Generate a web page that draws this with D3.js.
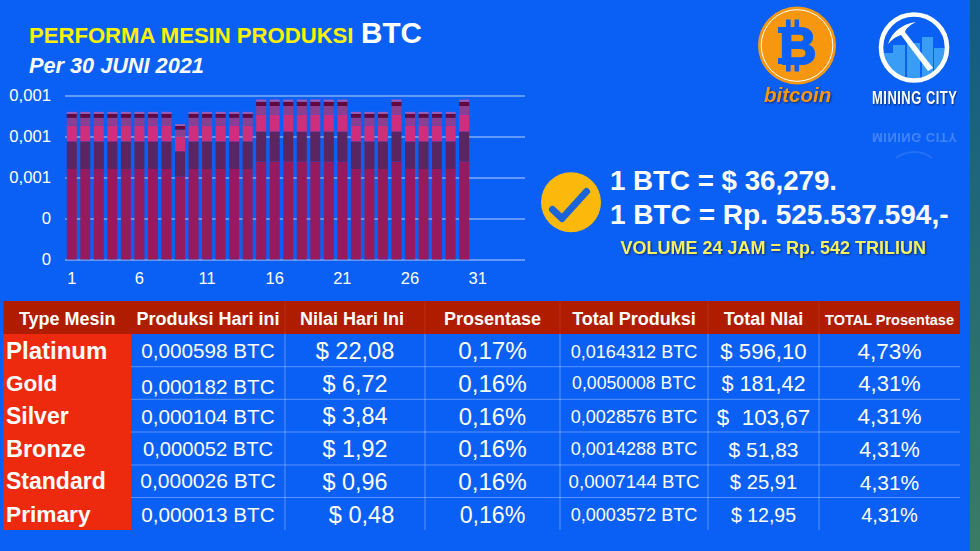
<!DOCTYPE html>
<html>
<head>
  <meta charset="UTF-8">
  <style>
    body { margin: 0; background: #0a60f5; }
    svg { display: block; font-family: "Liberation Sans", Arial, sans-serif; }
    .shadow { filter: drop-shadow(1px 1px 1px rgba(0,0,40,.55)); }
  </style>
</head>
<body>
<svg width="980" height="551"></svg>
<script src="https://d3js.org/d3.v7.min.js"></script>
<script>
// ---- chart data
const days = d3.range(1, 35); // axis runs on past the last bar, labels stop at 31
const platinum = [.000552,.000552,.000552,.000552,.000552,.000552,.000552,.000552,.000506,.000552,.000552,.000552,.000552,.000552,.000598,.000598,.000598,.000598,.000598,.000598,.000598,.000552,.000552,.000552,.000598,.000552,.000552,.000552,.000552,.000598];
const gold     = [.000168,.000168,.000168,.000168,.000168,.000168,.000168,.000168,.000154,.000168,.000168,.000168,.000168,.000168,.000182,.000182,.000182,.000182,.000182,.000182,.000182,.000168,.000168,.000168,.000182,.000168,.000168,.000168,.000168,.000182];
const silver   = [.000096,.000096,.000096,.000096,.000096,.000096,.000096,.000096,.000088,.000096,.000096,.000096,.000096,.000096,.000104,.000104,.000104,.000104,.000104,.000104,.000104,.000096,.000096,.000096,.000104,.000096,.000096,.000096,.000096,.000104];
const bronze   = [.000048,.000048,.000048,.000048,.000048,.000048,.000048,.000048,.000044,.000048,.000048,.000048,.000048,.000048,.000052,.000052,.000052,.000052,.000052,.000052,.000052,.000048,.000048,.000048,.000052,.000048,.000048,.000048,.000048,.000052];
const standard = [.000024,.000024,.000024,.000024,.000024,.000024,.000024,.000024,.000022,.000024,.000024,.000024,.000024,.000024,.000026,.000026,.000026,.000026,.000026,.000026,.000026,.000024,.000024,.000024,.000026,.000024,.000024,.000024,.000024,.000026];
const primary  = [.000012,.000012,.000012,.000012,.000012,.000012,.000012,.000012,.000011,.000012,.000012,.000012,.000012,.000012,.000013,.000013,.000013,.000013,.000013,.000013,.000013,.000012,.000012,.000012,.000013,.000012,.000012,.000012,.000012,.000013];
const yTicks = [0, .00025, .0005, .00075, .001];
const xTicks = [1, 6, 11, 16, 21, 26, 31];

// ---- table text
const headers = ["Type Mesin", "Produksi Hari ini", "Nilai Hari Ini", "Prosentase", "Total Produksi", "Total Nlai", "TOTAL Prosentase"];
const machines = ["Platinum", "Gold", "Silver", "Bronze", "Standard", "Primary"];
const prodToday = ["0,000598 BTC", "0,000182 BTC", "0,000104 BTC", "0,000052 BTC", "0,000026 BTC", "0,000013 BTC"];
const valueToday = ["$ 22,08", "$ 6,72", "$ 3,84", "$ 1,92", "$ 0,96", "\u00a0\u00a0$ 0,48"];
const pctToday = ["0,17%", "0,16%", "0,16%", "0,16%", "0,16%", "0,16%"];
const prodTotal = ["0,0164312 BTC", "0,0050008 BTC", "0,0028576 BTC", "0,0014288 BTC", "0,0007144 BTC", "0,0003572 BTC"];
const valueTotal = ["$ 596,10", "$ 181,42", "$\u00a0\u00a0103,67", "$ 51,83", "$ 25,91", "$ 12,95"];
const pctTotal = ["4,73%", "4,31%", "4,31%", "4,31%", "4,31%", "4,31%"];

const svg = d3.select("svg");
const seriesColors = ["#961b5e", "#5a2560", "#cf2e7c", "#8c3f90", "#63083e", "#a25cb5"];

// ---- backdrop, the darker strip on the right edge
const grad = svg.append("defs").append("linearGradient").attr("id", "strip")
  .attr("x1", 0).attr("x2", 0).attr("y1", 0).attr("y2", 1);
grad.append("stop").attr("offset", 0).attr("stop-color", "#125a88");
grad.append("stop").attr("offset", 1).attr("stop-color", "#3a7c62");
svg.append("rect").attr("width", 980).attr("height", 551).attr("fill", "#0a60f5");
svg.append("rect").attr("x", 970).attr("width", 10).attr("height", 551).attr("fill", "url(#strip)");

// ---- title
svg.append("text").attr("x", 29).attr("y", 43).attr("font-size", 22.1).attr("font-weight", "bold")
  .attr("fill", "#fff200").text("PERFORMA MESIN PRODUKSI");
svg.append("text").attr("x", 361).attr("y", 43).attr("font-size", 29.7).attr("font-weight", "bold")
  .attr("fill", "#fff").text("BTC");
svg.append("text").attr("x", 29).attr("y", 72.5).attr("font-size", 21.7).attr("font-weight", "bold")
  .attr("font-style", "italic").attr("fill", "#fff").text("Per 30 JUNI 2021");

// ---- stacked bars
const x = d3.scaleBand().domain(days).range([65, 525]).paddingInner(.26).paddingOuter(.13);
const y = d3.scaleLinear().domain([0, .001]).range([259.5, 95.5]);

const rows = platinum.map((v, i) => ({
  day: days[i], platinum: v, gold: gold[i], silver: silver[i],
  bronze: bronze[i], standard: standard[i], primary: primary[i]
}));
const stacked = d3.stack().keys(["platinum", "gold", "silver", "bronze", "standard", "primary"])(rows);

const yAxis = d3.axisLeft(y).tickValues(yTicks).tickSize(-460).tickPadding(14)
  .tickFormat(v => String(+v.toFixed(3)).replace(".", ","));
const yG = svg.append("g").attr("transform", "translate(65,0)").call(yAxis);
yG.select(".domain").remove();
yG.selectAll("line").attr("stroke", "#b9d2fb").attr("stroke-width", 1);
yG.selectAll("text").attr("fill", "#fff").attr("font-size", 16.7).attr("font-family", "Liberation Sans");

const xAxis = d3.axisBottom(x).tickValues(xTicks).tickSize(0).tickPadding(13);
const xG = svg.append("g").attr("transform", "translate(0,259.5)").call(xAxis);
xG.select(".domain").remove();
xG.selectAll("text").attr("fill", "#fff").attr("font-size", 16.5).attr("font-family", "Liberation Sans");

svg.append("g").selectAll("g").data(stacked).enter().append("g")
  .attr("fill", (d, i) => seriesColors[i])
  .selectAll("rect").data(d => d).enter().append("rect")
  .attr("x", d => x(d.data.day))
  .attr("width", x.bandwidth())
  .attr("y", d => y(d[1]))
  .attr("height", d => y(d[0]) - y(d[1]));

// ---- bitcoin logo
const btc = svg.append("g");
btc.append("circle").attr("cx", 797).attr("cy", 45.5).attr("r", 39).attr("fill", "#f7970f");
btc.append("circle").attr("cx", 797).attr("cy", 45.5).attr("r", 35.8).attr("fill", "none").attr("stroke", "#fff").attr("stroke-width", 1);
// the stubs above and below the B, and its serifs
btc.append("path").attr("fill", "#0a60f5")
  .attr("d", "M786 19.5h4.6v9h-4.6zM794.5 19.5h4.6v9h-4.6zM786 62h4.6v9.5h-4.6zM794.5 62h4.6v9.5h-4.6zM778 27h12v6h-12zM778 58h12v6h-12z");
btc.append("text").attr("x", 798).attr("y", 64).attr("text-anchor", "middle").attr("font-size", 51)
  .attr("font-weight", "bold").attr("fill", "#0a60f5").attr("stroke", "#0a60f5").attr("stroke-width", 2.2).text("B");
btc.append("text").attr("class", "shadow").attr("x", 764).attr("y", 101.5).attr("font-size", 20.5)
  .attr("font-weight", "bold").attr("font-style", "italic").attr("fill", "#f7970f").text("bitcoin");

// ---- mining city logo
const mc = svg.append("g");
mc.append("clipPath").attr("id", "mcClip").append("circle").attr("cx", 914).attr("cy", 47.5).attr("r", 31);
mc.append("g").attr("clip-path", "url(#mcClip)").attr("fill", "#3a9df5").selectAll("path")
  .data(["M884 53h9v30h-9z", "M893 45h12v38h-12z", "M907 43h13v40h-13z", "M922 37h11v46h-11z", "M934 48h11v35h-11z"])
  .enter().append("path").attr("d", d => d);
mc.append("circle").attr("cx", 914).attr("cy", 47.5).attr("r", 33).attr("fill", "none").attr("stroke", "#fff").attr("stroke-width", 4.6);
mc.append("path").attr("fill", "#fff").attr("d", "M888 44C892 32 902 24 916 22C908 26 906 29 905 32L933 68L928 71L901 35C897 36 892 39 888 44Z");
mc.append("text").attr("class", "shadow").attr("transform", "translate(872,104) scale(.72,1)")
  .attr("font-size", 18).attr("font-weight", "bold").attr("letter-spacing", .7)
  .attr("fill", "#fff").text("MINING CITY");
// faint reflection under the logo
mc.append("text").attr("transform", "translate(872,133) scale(.72,-.75)")
  .attr("font-size", 18).attr("font-weight", "bold").attr("letter-spacing", .7)
  .attr("fill", "#fff").attr("opacity", .22).text("MINING CITY");
mc.append("path").attr("d", "M896 158C906 150 922 150 932 158").attr("fill", "none")
  .attr("stroke", "#fff").attr("stroke-width", 2).attr("opacity", .1);

// ---- price block
svg.append("circle").attr("cx", 571).attr("cy", 202.3).attr("r", 30).attr("fill", "#fdb90b");
svg.append("path").attr("d", "M552.5 209.5L562 218.5L586.5 191.5").attr("fill", "none")
  .attr("stroke", "#1a63d8").attr("stroke-width", 7).attr("stroke-linecap", "round").attr("stroke-linejoin", "round");
svg.append("text").attr("x", 610).attr("y", 190).attr("font-size", 27.7).attr("font-weight", "bold")
  .attr("fill", "#fff").text("1 BTC = $ 36,279.");
svg.append("text").attr("x", 610).attr("y", 224).attr("font-size", 28).attr("font-weight", "bold")
  .attr("fill", "#fff").text("1 BTC = Rp. 525.537.594,-");
svg.append("text").attr("class", "shadow").attr("x", 620.5).attr("y", 254).attr("font-size", 18).attr("font-weight", "bold")
  .attr("fill", "#f6f15f").text("VOLUME 24 JAM = Rp. 542 TRILIUN");

// ---- table
const colEdges = [3.5, 131, 285, 425, 560, 708, 819, 960];
const rowEdges = [301, 334, 366.7, 399.3, 432, 465, 497.5, 530];
const t = svg.append("g");
t.append("rect").attr("x", colEdges[0]).attr("y", rowEdges[0]).attr("width", colEdges[7] - colEdges[0])
  .attr("height", rowEdges[1] - rowEdges[0]).attr("fill", "#b01c00");
t.append("rect").attr("x", colEdges[0]).attr("y", rowEdges[1]).attr("width", colEdges[1] - colEdges[0])
  .attr("height", rowEdges[7] - rowEdges[1]).attr("fill", "#ee2a0e");
rowEdges.slice(2, 7).forEach(ry => {
  t.append("line").attr("x1", colEdges[1]).attr("x2", colEdges[7]).attr("y1", ry).attr("y2", ry)
    .attr("stroke", "#fff").attr("stroke-opacity", .32);
});
colEdges.slice(2, 7).forEach(cx => {
  t.append("line").attr("x1", cx).attr("x2", cx).attr("y1", rowEdges[1]).attr("y2", rowEdges[7])
    .attr("stroke", "#fff").attr("stroke-opacity", .32);
  t.append("line").attr("x1", cx).attr("x2", cx).attr("y1", rowEdges[0]).attr("y2", rowEdges[1])
    .attr("stroke", "#fff").attr("stroke-opacity", .08);
});

const colMid = i => (colEdges[i] + colEdges[i + 1]) / 2;
const headSizes = [18, 18, 18, 18, 18, 18, 14.5];
t.selectAll("text.head").data(headers).enter().append("text").attr("class", "head")
  .attr("x", (d, i) => colMid(i) + (i === 2 ? -3 : 0)).attr("y", 325).attr("text-anchor", "middle")
  .attr("font-size", (d, i) => headSizes[i]).attr("font-weight", "bold").attr("fill", "#fff").text(d => d);

const nameSizes = [24, 22.5, 23, 23.5, 23, 22.7];
const nameBase = [359, 391, 424, 456.7, 489, 522];
t.selectAll("text.name").data(machines).enter().append("text").attr("class", "name")
  .attr("x", 6).attr("y", (d, i) => nameBase[i]).attr("font-size", (d, i) => nameSizes[i])
  .attr("font-weight", "bold").attr("fill", "#fff").text(d => d);

const columns = [prodToday, valueToday, pctToday, prodTotal, valueTotal, pctTotal];
const cellSizes = [
  [20.7, 20.7, 20.7, 20.2, 21, 20.7],
  [23.6, 23.4, 23.4, 23.4, 23.4, 23.6],
  [24.2, 24.2, 23.8, 24.2, 24.2, 23.2],
  [18.1, 17.7, 18.1, 18.1, 18.7, 18.1],
  [22.2, 21.6, 22.4, 21, 20.2, 19.5],
  [22.5, 22, 22.5, 21.4, 21, 20]
];
const cellBase = [
  [358.3, 394, 424, 456, 487.7, 521.7],
  [359, 391.7, 424, 457, 490, 522.7],
  [359, 391.7, 425, 457, 490, 522.7],
  [357.7, 389.3, 423, 455.3, 488.3, 521],
  [359, 391, 424.7, 457, 489.3, 522],
  [359, 391, 424, 456.7, 489.7, 522]
];
columns.forEach((col, c) => {
  t.append("g").selectAll("text").data(col).enter().append("text")
    .attr("x", colMid(c + 1)).attr("y", (d, r) => cellBase[c][r]).attr("text-anchor", "middle")
    .attr("font-size", (d, r) => cellSizes[c][r]).attr("fill", "#fff").text(d => d);
});
</script>
</body>
</html>
